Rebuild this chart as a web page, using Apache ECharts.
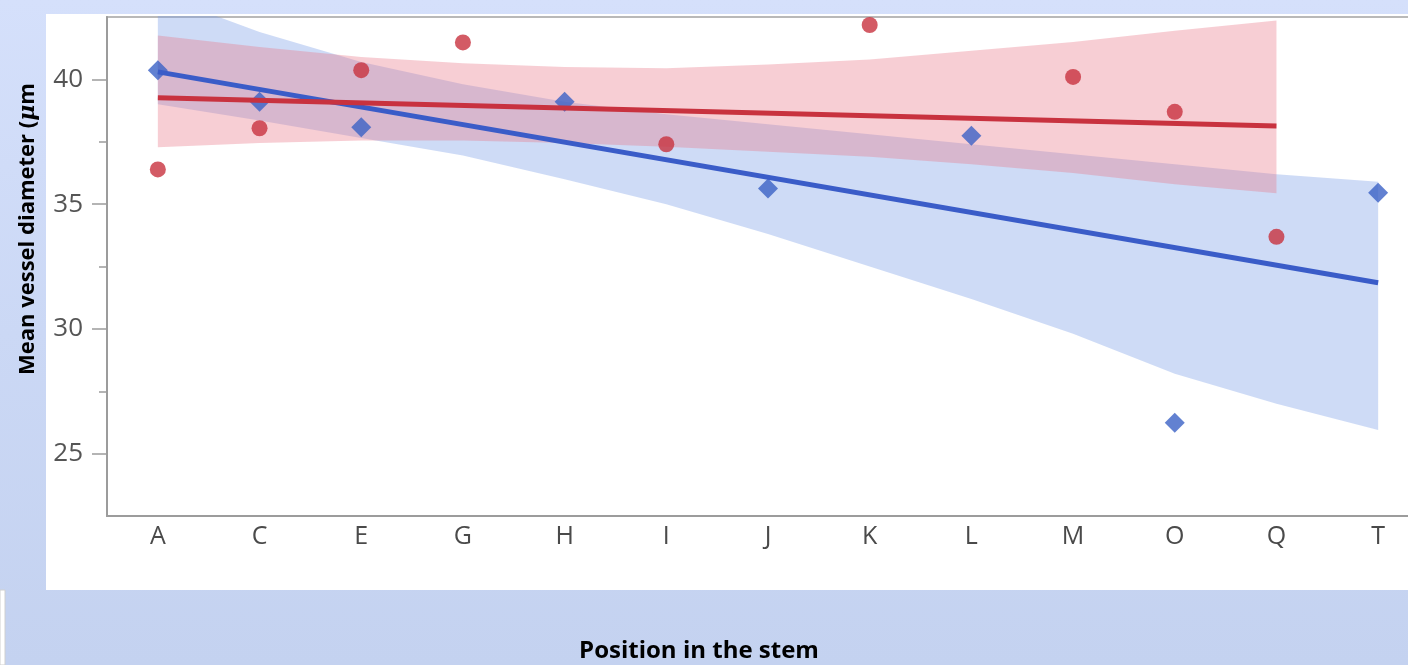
<!DOCTYPE html>
<html>
<head>
<meta charset="utf-8">
<script src="https://cdn.jsdelivr.net/npm/echarts@6/dist/echarts.min.js"></script>
<style>
html,body{margin:0;padding:0;}
#chart{width:1408px;height:665px;background:linear-gradient(180deg,#d5e0fb 0%,#cbd8f5 50%,#c4d2f0 100%);}
</style>
</head>
<body>
<div id="chart"></div>
<script>
// ---- data ----
const categories = ['A','C','E','G','H','I','J','K','L','M','O','Q','T'];
const redPoints  = [36.39, 38.04, 40.37, 41.48, null, 37.40, null, 42.18, null, 40.10, 38.70, 33.69, null];
const bluePoints = [40.37, 39.10, 38.08, null, 39.10, null, 35.63, null, 37.74, null, 26.24, null, 35.46];
const redFit  = [39.26, null, null, null, null, null, null, null, null, null, null, 38.13, null];
const blueFit = [40.30, null, null, null, null, null, null, null, null, null, null, null, 31.85];
const redUpper  = [41.76, 41.30, 40.90, 40.65, 40.50, 40.45, 40.60, 40.80, 41.15, 41.50, 41.95, 42.36, null];
const redLower  = [37.28, 37.45, 37.55, 37.55, 37.45, 37.30, 37.10, 36.90, 36.60, 36.25, 35.80, 35.44, null];
const blueUpper = [43.40, 41.90, 40.70, 39.80, 39.10, 38.60, 38.20, 37.80, 37.40, 37.00, 36.60, 36.20, 35.90];
const blueLower = [39.00, 38.35, 37.65, 36.95, 36.00, 35.00, 33.80, 32.50, 31.20, 29.80, 28.20, 27.00, 25.95];
const majorTicks = [25, 30, 35, 40];
const minorTicks = [27.5, 32.5, 37.5];
const xTitle = 'Position in the stem';

const diff = (u, l) => u.map((v, i) => (v == null || l[i] == null) ? null : +(v - l[i]).toFixed(3));

const chart = echarts.init(document.getElementById('chart'), null, {renderer: 'canvas'});
const axisGray = '#9c9c9c';
const option = {
  animation: false,
  backgroundColor: 'transparent',
  graphic: [
    {type: 'rect', z: -100, shape: {x: 46, y: 14, width: 1362, height: 576}, style: {fill: '#ffffff'}},
    {type: 'rect', z: -100, shape: {x: 0, y: 590, width: 5, height: 75}, style: {fill: '#ffffff', stroke: '#d0d0d0', lineWidth: 1}},
    {type: 'text', x: 699, y: 651, z: 10,
      style: {text: xTitle, fill: '#000', font: 'bold 24px "Open Sans"', align: 'center', verticalAlign: 'middle'}},
    {type: 'text', x: 28, y: 229, rotation: Math.PI / 2, z: 10,
      style: {text: 'Mean vessel diameter ({i|μ}m', fill: '#000', font: 'bold 22px "Open Sans"', align: 'center', verticalAlign: 'middle',
        rich: {i: {fontStyle: 'italic', fontWeight: 'bold', fontSize: 22, fontFamily: 'DejaVu Serif', fill: '#000'}}}}
  ],
  grid: {left: 107, top: 17, width: 1322, height: 499, outerBoundsMode: 'none', containLabel: false,
    show: true, borderColor: '#b9b9b9', borderWidth: 2, backgroundColor: 'transparent'},
  xAxis: {
    type: 'category', data: categories, boundaryGap: true,
    axisLine: {lineStyle: {color: axisGray, width: 2}},
    axisTick: {show: false},
    axisLabel: {color: '#4a4a4a', fontSize: 25, fontFamily: 'Open Sans', margin: 8}
  },
  yAxis: [
    {
      type: 'value', min: 22.5, max: 42.5, interval: 2.5,
      splitLine: {show: false},
      axisLine: {show: true, lineStyle: {color: axisGray, width: 2}},
      axisTick: {show: true, customValues: majorTicks, length: 15, lineStyle: {color: axisGray, width: 1.5}},
      axisLabel: {customValues: majorTicks, color: '#555', fontSize: 26, fontFamily: 'Open Sans', margin: 24}
    },
    {
      type: 'value', min: 22.5, max: 42.5, interval: 2.5, position: 'left',
      splitLine: {show: false},
      axisLine: {show: false},
      axisTick: {show: true, customValues: minorTicks, length: 8, lineStyle: {color: axisGray, width: 1.5}},
      axisLabel: {show: false}
    }
  ],
  series: [
    {type: 'line', name: 'blueLow', data: blueLower, stack: 'blue', symbol: 'none', lineStyle: {opacity: 0}, z: 1, silent: true},
    {type: 'line', name: 'blueBand', data: diff(blueUpper, blueLower), stack: 'blue', symbol: 'none', lineStyle: {opacity: 0},
      areaStyle: {color: 'rgba(120,155,230,0.36)', opacity: 1}, z: 1, silent: true},
    {type: 'line', name: 'redLow', data: redLower, stack: 'red', symbol: 'none', lineStyle: {opacity: 0}, z: 1, silent: true},
    {type: 'line', name: 'redBand', data: diff(redUpper, redLower), stack: 'red', symbol: 'none', lineStyle: {opacity: 0},
      areaStyle: {color: 'rgba(232,120,135,0.36)', opacity: 1}, z: 1, silent: true},
    {type: 'scatter', name: 'blue', data: bluePoints, symbol: 'diamond', symbolSize: [20, 20], itemStyle: {color: '#3b61c6'}, z: 2},
    {type: 'scatter', name: 'red', data: redPoints, symbol: 'circle', symbolSize: 16, itemStyle: {color: '#c8323f'}, z: 2},
    {type: 'line', name: 'blueFit', data: blueFit, connectNulls: true, symbol: 'none', lineStyle: {color: '#3a5cc8', width: 5}, z: 3},
    {type: 'line', name: 'redFit', data: redFit, connectNulls: true, symbol: 'none', lineStyle: {color: '#c8323f', width: 5}, z: 4}
  ]
};
chart.setOption(option);
</script>
</body>
</html>
